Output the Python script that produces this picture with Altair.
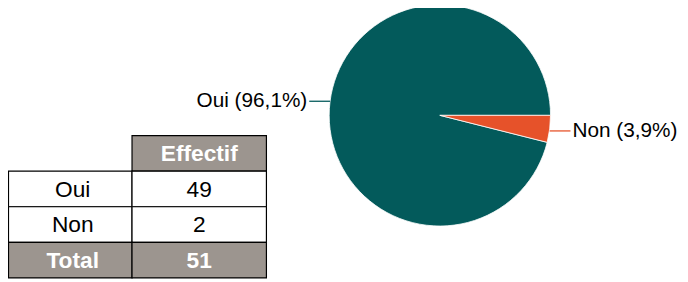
import math
import altair as alt
import pandas as pd

# ---- data ----
categories = ["Oui", "Non"]
counts = [49, 2]
slice_order = [1, 0]          # Non drawn first, starting at 3 o'clock
table_header = "Effectif"
total_label = "Total"

# ---- style / layout ----
TEAL = "#035a5b"
ORANGE = "#e6522a"
GRAY = "#9c958f"
FONT = "Liberation Sans"
W, H = 680, 274
CX, CY, R = 437, 107, 112
COL_EDGES = [0.5, 125.5, 261.5]
ROW_TOP, ROW_H = 127.5, 36

pie_df = pd.DataFrame({"cat": categories, "count": counts, "ord": slice_order})

arcs = alt.Chart(pie_df).mark_arc(outerRadius=R, stroke="white", strokeWidth=0.8).encode(
    theta=alt.Theta("count:Q", stack=True,
                    scale=alt.Scale(range=[math.pi / 2, math.pi / 2 + 2 * math.pi])),
    order=alt.Order("ord:Q"),
    color=alt.Color("cat:N", scale=alt.Scale(domain=categories, range=[TEAL, ORANGE]), legend=None),
    x=alt.value(CX),
    y=alt.value(CY),
)

lab_base = alt.Chart(pie_df).transform_joinaggregate(
    total="sum(count)"
).transform_window(
    cum="sum(count)", sort=[alt.SortField("ord")], frame=[None, 0]
).transform_calculate(
    mid=f"{math.pi/2} + 2*PI*(datum.cum - datum.count/2)/datum.total",
    ex=f"{CX} + {R}*sin(datum.mid)",
    ey=f"{CY} - {R}*cos(datum.mid) + (datum.ord == 0 ? 2 : -0.5)",
    side="sin(datum.mid) > 0 ? 1 : -1",
    lx="datum.ex + datum.side*21",
    tx="datum.ex + datum.side*23",
    txt="datum.cat + ' (' + replace(format(100*datum.count/datum.total, '.1f'), '.', ',') + '%)'",
)

leaders = lab_base.mark_rule(strokeWidth=1.3).encode(
    x=alt.X("ex:Q", scale=None, axis=None),
    x2="lx:Q",
    y=alt.Y("ey:Q", scale=None, axis=None),
    y2="ey:Q",
    color=alt.Color("cat:N", scale=alt.Scale(domain=categories, range=[TEAL, ORANGE]), legend=None),
)

lab_right = lab_base.transform_filter("datum.side > 0").mark_text(
    align="left", baseline="middle", font=FONT, fontSize=21, color="black"
).encode(x=alt.X("tx:Q", scale=None, axis=None), y=alt.Y("ey:Q", scale=None, axis=None), text="txt:N")

lab_left = lab_base.transform_filter("datum.side < 0").mark_text(
    align="right", baseline="middle", font=FONT, fontSize=21, color="black"
).encode(x=alt.X("tx:Q", scale=None, axis=None), y=alt.Y("ey:Q", scale=None, axis=None), text="txt:N")

# ---- table ----
rows = [("", table_header, "head")]
rows += [(c, str(n), "body") for c, n in zip(categories, counts)]
rows += [(total_label, str(sum(counts)), "total")]

cells = []
for i, (lab, val, kind) in enumerate(rows):
    y0 = ROW_TOP + i * ROW_H
    for j, t in enumerate([lab, val]):
        if kind == "head" and j == 0:
            continue
        gray = kind in ("head", "total")
        cells.append({
            "x": COL_EDGES[j], "x2": COL_EDGES[j + 1], "y": y0, "y2": y0 + ROW_H,
            "xc": (COL_EDGES[j] + COL_EDGES[j + 1]) / 2 + (2.5 if j == 0 else 0),
            "yc": y0 + ROW_H / 2 + 1,
            "fill": GRAY if gray else "white",
            "tcol": "white" if gray else "black",
            "bold": gray, "t": t,
        })
cell_df = pd.DataFrame(cells)

rects = alt.Chart(cell_df).mark_rect(stroke="black", strokeWidth=1.2).encode(
    x=alt.X("x:Q", scale=None, axis=None), x2="x2:Q",
    y=alt.Y("y:Q", scale=None, axis=None), y2="y2:Q",
    fill=alt.Fill("fill:N", scale=None),
)

txt_norm = alt.Chart(cell_df).transform_filter("!datum.bold").mark_text(
    align="center", baseline="middle", font=FONT, fontSize=23
).encode(
    x=alt.X("xc:Q", scale=None, axis=None), y=alt.Y("yc:Q", scale=None, axis=None),
    text="t:N", color=alt.Color("tcol:N", scale=None),
)
txt_bold = alt.Chart(cell_df).transform_filter("datum.bold").mark_text(
    align="center", baseline="middle", font=FONT, fontSize=23, fontWeight="bold"
).encode(
    x=alt.X("xc:Q", scale=None, axis=None), y=alt.Y("yc:Q", scale=None, axis=None),
    text="t:N", color=alt.Color("tcol:N", scale=None),
)

chart = alt.layer(arcs, leaders, lab_right, lab_left, rects, txt_norm, txt_bold).resolve_scale(
    color="independent"
).properties(
    width=W, height=H, autosize=alt.AutoSizeParams(type="none"), padding=0, background="white"
).configure_view(strokeWidth=0)

chart.save("out.html", embed_options={"renderer": "svg", "actions": False})
